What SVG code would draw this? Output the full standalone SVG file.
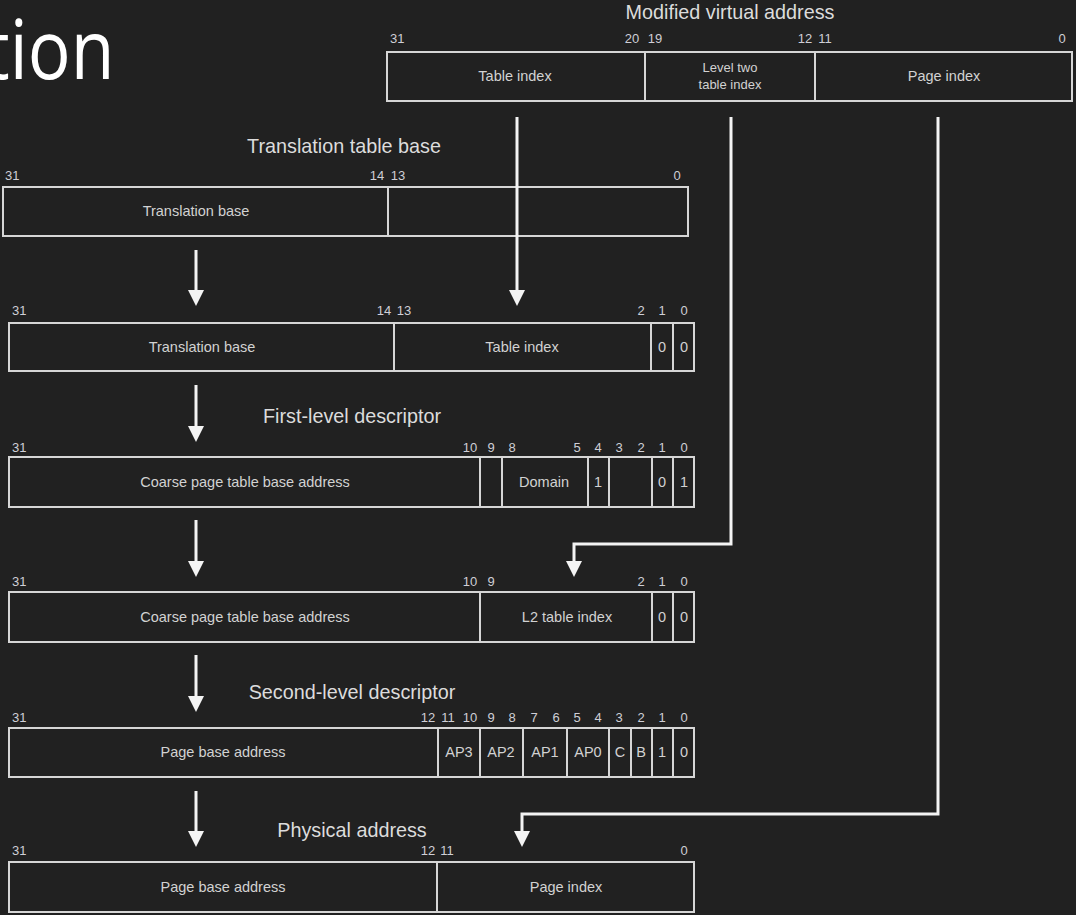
<svg xmlns="http://www.w3.org/2000/svg" width="1076" height="915" viewBox="0 0 1076 915">
<defs>
<style>
.bg{fill:#212121}
.box{fill:none;stroke:#d6d6d6;stroke-width:2}
.div{stroke:#d6d6d6;stroke-width:2}
.t{font-family:"Liberation Sans",Arial,sans-serif;font-size:14.5px;fill:#d2d2d2;text-anchor:middle}
.b{font-family:"Liberation Sans",Arial,sans-serif;font-size:13px;fill:#cfcfd6;text-anchor:middle}
.bl{font-family:"Liberation Sans",Arial,sans-serif;font-size:13px;fill:#cfcfd6;text-anchor:start}
.h{font-family:"Liberation Sans",Arial,sans-serif;font-size:19.8px;fill:#dcdcdc;text-anchor:middle}
.big{font-family:"Open Sans","Noto Sans",sans-serif;font-size:82px;fill:#ffffff}
.arr{fill:none;stroke:#f4f4f4;stroke-width:3}
</style>
<marker id="ah" markerUnits="userSpaceOnUse" markerWidth="16" markerHeight="16" viewBox="0 0 16 16" refX="4" refY="8" orient="auto">
<path d="M0,0 L16,8 L0,16 z" fill="#f4f4f4"/>
</marker>
</defs>
<rect class="bg" x="0" y="0" width="1076" height="915"/>
<text class="big" x="0" y="0" transform="translate(-15.7,79) scale(0.87,1)">tion</text>

<g id="virtual-address">
<text class="h" x="730" y="19">Modified virtual address</text>
<text class="bl" x="390" y="43">31</text>
<text class="b" x="632" y="43">20</text>
<text class="b" x="655" y="43">19</text>
<text class="b" x="805" y="43">12</text>
<text class="b" x="825" y="43">11</text>
<text class="b" x="1062" y="43">0</text>
<rect class="box" x="387" y="52" width="685" height="49"/>
<line class="div" x1="645" y1="52" x2="645" y2="101"/>
<line class="div" x1="815" y1="52" x2="815" y2="101"/>
<text class="t" x="515" y="81">Table index</text>
<text class="t" x="730" y="72" style="font-size:13px">Level two</text>
<text class="t" x="730" y="89" style="font-size:13px">table index</text>
<text class="t" x="944" y="81">Page index</text>
</g>

<g id="translation-table-base">
<text class="h" x="344" y="153">Translation table base</text>
<text class="bl" x="5" y="180">31</text>
<text class="b" x="377" y="180">14</text>
<text class="b" x="398" y="180">13</text>
<text class="b" x="677" y="180">0</text>
<rect class="box" x="3" y="187" width="685" height="49"/>
<line class="div" x1="388" y1="187" x2="388" y2="236"/>
<text class="t" x="196" y="216">Translation base</text>
</g>

<g id="first-level-address">
<text class="bl" x="12" y="315">31</text>
<text class="b" x="384" y="315">14</text>
<text class="b" x="404" y="315">13</text>
<text class="b" x="641" y="315">2</text>
<text class="b" x="662" y="315">1</text>
<text class="b" x="684" y="315">0</text>
<rect class="box" x="9" y="323" width="685" height="48"/>
<line class="div" x1="394" y1="323" x2="394" y2="371"/>
<line class="div" x1="651" y1="323" x2="651" y2="371"/>
<line class="div" x1="673" y1="323" x2="673" y2="371"/>
<text class="t" x="202" y="352">Translation base</text>
<text class="t" x="522" y="352">Table index</text>
<text class="t" x="662" y="352">0</text>
<text class="t" x="684" y="352">0</text>
</g>

<g id="first-level-descriptor">
<text class="h" x="352" y="423">First-level descriptor</text>
<text class="bl" x="12" y="452">31</text>
<text class="b" x="470" y="452">10</text>
<text class="b" x="491" y="452">9</text>
<text class="b" x="512" y="452">8</text>
<text class="b" x="577" y="452">5</text>
<text class="b" x="598" y="452">4</text>
<text class="b" x="619" y="452">3</text>
<text class="b" x="641" y="452">2</text>
<text class="b" x="662" y="452">1</text>
<text class="b" x="684" y="452">0</text>
<rect class="box" x="9" y="457" width="685" height="50"/>
<line class="div" x1="480" y1="457" x2="480" y2="507"/>
<line class="div" x1="502" y1="457" x2="502" y2="507"/>
<line class="div" x1="588" y1="457" x2="588" y2="507"/>
<line class="div" x1="609" y1="457" x2="609" y2="507"/>
<line class="div" x1="652" y1="457" x2="652" y2="507"/>
<line class="div" x1="673" y1="457" x2="673" y2="507"/>
<text class="t" x="245" y="487">Coarse page table base address</text>
<text class="t" x="544" y="487">Domain</text>
<text class="t" x="598" y="487">1</text>
<text class="t" x="662" y="487">0</text>
<text class="t" x="684" y="487">1</text>
</g>

<g id="second-level-address">
<text class="bl" x="12" y="586">31</text>
<text class="b" x="470" y="586">10</text>
<text class="b" x="491" y="586">9</text>
<text class="b" x="641" y="586">2</text>
<text class="b" x="662" y="586">1</text>
<text class="b" x="684" y="586">0</text>
<rect class="box" x="9" y="592" width="685" height="50"/>
<line class="div" x1="480" y1="592" x2="480" y2="642"/>
<line class="div" x1="652" y1="592" x2="652" y2="642"/>
<line class="div" x1="673" y1="592" x2="673" y2="642"/>
<text class="t" x="245" y="622">Coarse page table base address</text>
<text class="t" x="567" y="622">L2 table index</text>
<text class="t" x="662" y="622">0</text>
<text class="t" x="684" y="622">0</text>
</g>

<g id="second-level-descriptor">
<text class="h" x="352" y="699">Second-level descriptor</text>
<text class="bl" x="12" y="722">31</text>
<text class="b" x="428" y="722">12</text>
<text class="b" x="448" y="722">11</text>
<text class="b" x="470" y="722">10</text>
<text class="b" x="491" y="722">9</text>
<text class="b" x="512" y="722">8</text>
<text class="b" x="534" y="722">7</text>
<text class="b" x="556" y="722">6</text>
<text class="b" x="577" y="722">5</text>
<text class="b" x="598" y="722">4</text>
<text class="b" x="619" y="722">3</text>
<text class="b" x="641" y="722">2</text>
<text class="b" x="662" y="722">1</text>
<text class="b" x="684" y="722">0</text>
<rect class="box" x="9" y="728" width="685" height="49"/>
<line class="div" x1="438" y1="728" x2="438" y2="777"/>
<line class="div" x1="480" y1="728" x2="480" y2="777"/>
<line class="div" x1="523" y1="728" x2="523" y2="777"/>
<line class="div" x1="567" y1="728" x2="567" y2="777"/>
<line class="div" x1="609" y1="728" x2="609" y2="777"/>
<line class="div" x1="631" y1="728" x2="631" y2="777"/>
<line class="div" x1="652" y1="728" x2="652" y2="777"/>
<line class="div" x1="673" y1="728" x2="673" y2="777"/>
<text class="t" x="223" y="757">Page base address</text>
<text class="t" x="459" y="757">AP3</text>
<text class="t" x="501" y="757">AP2</text>
<text class="t" x="545" y="757">AP1</text>
<text class="t" x="588" y="757">AP0</text>
<text class="t" x="620" y="757">C</text>
<text class="t" x="641" y="757">B</text>
<text class="t" x="662" y="757">1</text>
<text class="t" x="684" y="757">0</text>
</g>

<g id="physical-address">
<text class="h" x="352" y="837">Physical address</text>
<text class="bl" x="12" y="855">31</text>
<text class="b" x="428" y="855">12</text>
<text class="b" x="447" y="855">11</text>
<text class="b" x="684" y="855">0</text>
<rect class="box" x="9" y="862" width="685" height="50"/>
<line class="div" x1="437" y1="862" x2="437" y2="912"/>
<text class="t" x="223" y="892">Page base address</text>
<text class="t" x="566" y="892">Page index</text>
</g>

<g id="connectors">
<path class="arr" marker-end="url(#ah)" d="M517,117 L517,294"/>
<path class="arr" marker-end="url(#ah)" d="M731,117 L731,544 L574,544 L574,565"/>
<path class="arr" marker-end="url(#ah)" d="M938,117 L938,814 L522,814 L522,835"/>
<path class="arr" marker-end="url(#ah)" d="M196,250 L196,294"/>
<path class="arr" marker-end="url(#ah)" d="M196,385 L196,430"/>
<path class="arr" marker-end="url(#ah)" d="M196,520 L196,565"/>
<path class="arr" marker-end="url(#ah)" d="M196,655 L196,700"/>
<path class="arr" marker-end="url(#ah)" d="M196,791 L196,835"/>
</g>
</svg>
